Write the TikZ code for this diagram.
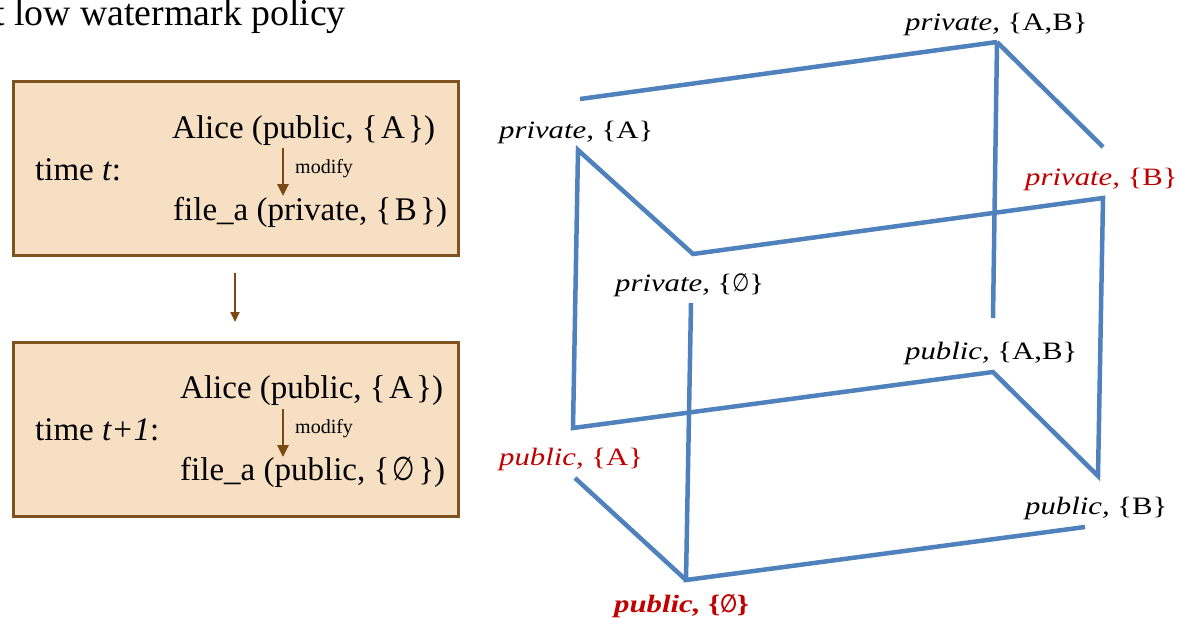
\documentclass[tikz,border=0pt]{standalone}
\usepackage{fontspec}
\setmainfont{Liberation Serif}
\newfontfamily\cubefont[FakeStretch=1.23]{Liberation Serif}
\newfontfamily\emptysetfont[FakeStretch=0.78]{DejaVu Sans}
\usetikzlibrary{arrows.meta}

\definecolor{boxfill}{HTML}{F6DFC2}
\definecolor{boxline}{HTML}{7F5320}
\definecolor{arrowbrown}{HTML}{7A4A12}
\definecolor{cubeblue}{HTML}{4F81BD}
\definecolor{hilite}{HTML}{C00000}

\newcommand{\es}{{\emptysetfont ∅}}
% set braces with a little air inside, as in the state boxes
\newcommand{\setof}[1]{\{\kern0.1em#1\kern0.1em\}}

\begin{document}
\begin{tikzpicture}[x=1pt, y=-1pt,
  statebox/.style={draw=boxline, line width=2.5pt, fill=boxfill, rectangle,
    anchor=north west, minimum width=445pt, minimum height=174pt, inner sep=0pt},
  txt/.style={anchor=base west, inner sep=0pt, font=\fontsize{33}{40}\selectfont},
  title/.style={anchor=base west, inner sep=0pt, font=\fontsize{37.8}{44}\selectfont},
  modlbl/.style={anchor=base west, inner sep=0pt, font=\fontsize{20}{24}\selectfont},
  flow/.style={draw=arrowbrown, line width=2.8pt, -{Triangle[width=11pt,length=12pt]}},
  thinflow/.style={draw=arrowbrown, line width=2pt, -{Triangle[width=9pt,length=10pt]}},
  edge/.style={draw=cubeblue, line width=4.5pt},
  lbl/.style={anchor=base west, inner sep=0pt, font=\cubefont\fontsize{25}{30}\selectfont},
  hot/.style={text=hilite}]

\useasboundingbox (0,0) rectangle (1180,627);

% heading
\node[title] (head) at (-6,25) {t low watermark policy};

% the two states
\node[statebox] (box1) at (12,80) {};
\node[statebox] (box2) at (12,341) {};

\node[txt] (alice1) at (172,138) {Alice (public, \setof{A})};
\node[txt] (file1)  at (173,220) {file\_a (private, \setof{B})};
\node[txt] (time1)  at (35,180)  {time \textit{t}:};
\node[modlbl] (mod1) at (295,173) {modify};

\node[txt] (alice2) at (180,398) {Alice (public, \setof{A})};
\node[txt] (file2)  at (180,480) {file\_a (public, \setof{\es})};
\node[txt] (time2)  at (35,440)  {time \textit{t+1}:};
\node[modlbl] (mod2) at (295,433) {modify};

\coordinate (m1a) at (283,148);
\coordinate (m1b) at (283,196);
\coordinate (m2a) at (283,409);
\coordinate (m2b) at (283,457);
\coordinate (stepA) at (235,273);
\coordinate (stepB) at (235,322);

\draw[flow] (m1a) -- (m1b);
\draw[flow] (m2a) -- (m2b);
\draw[thinflow] (stepA) -- (stepB);

% lattice cube corners
\coordinate (pAB)  at (997,42);
\coordinate (pA)   at (578,150);
\coordinate (pE)   at (693,254);
\coordinate (pB)   at (1103,198);
\coordinate (uA)   at (573,428);
\coordinate (uAB)  at (993,372);
\coordinate (uB)   at (1098,476);
\coordinate (uE)   at (686,580);
% open ends of the edges
\coordinate (topL)  at (580,99);
\coordinate (backD) at (993,318);
\coordinate (diagR) at (1103,147);
\coordinate (eUp)   at (691,303);
\coordinate (aLow)  at (575,478);
\coordinate (botR)  at (1085,527);

\draw[edge] (topL) -- (pAB);
\draw[edge] (pAB) -- (backD);
\draw[edge] (pAB) -- (diagR);
\draw[edge] (pE) -- (pA) -- (uA) -- (uAB) -- (uB) -- (pB) -- cycle;
\draw[edge] (eUp) -- (uE) -- (botR);
\draw[edge] (aLow) -- (uE);

% lattice labels
\node[lbl] (lpAB) at (905,30)  {\textit{private,} \{A,B\}};
\node[lbl] (lpA)  at (499,138) {\textit{private,} \{A\}};
\node[lbl,hot] (lpB) at (1025,185) {\textit{private,} \{B\}};
\node[lbl] (lpE)  at (615,291) {\textit{private,} \{\es\}};
\node[lbl] (luAB) at (905,359) {\textit{public,} \{A,B\}};
\node[lbl,hot] (luA) at (499,465) {\textit{public,} \{A\}};
\node[lbl] (luB)  at (1025,514) {\textit{public,} \{B\}};
\node[lbl,hot] (luE) at (614,612) {\bfseries\textit{public,} \{\es\}};

\end{tikzpicture}
\end{document}
